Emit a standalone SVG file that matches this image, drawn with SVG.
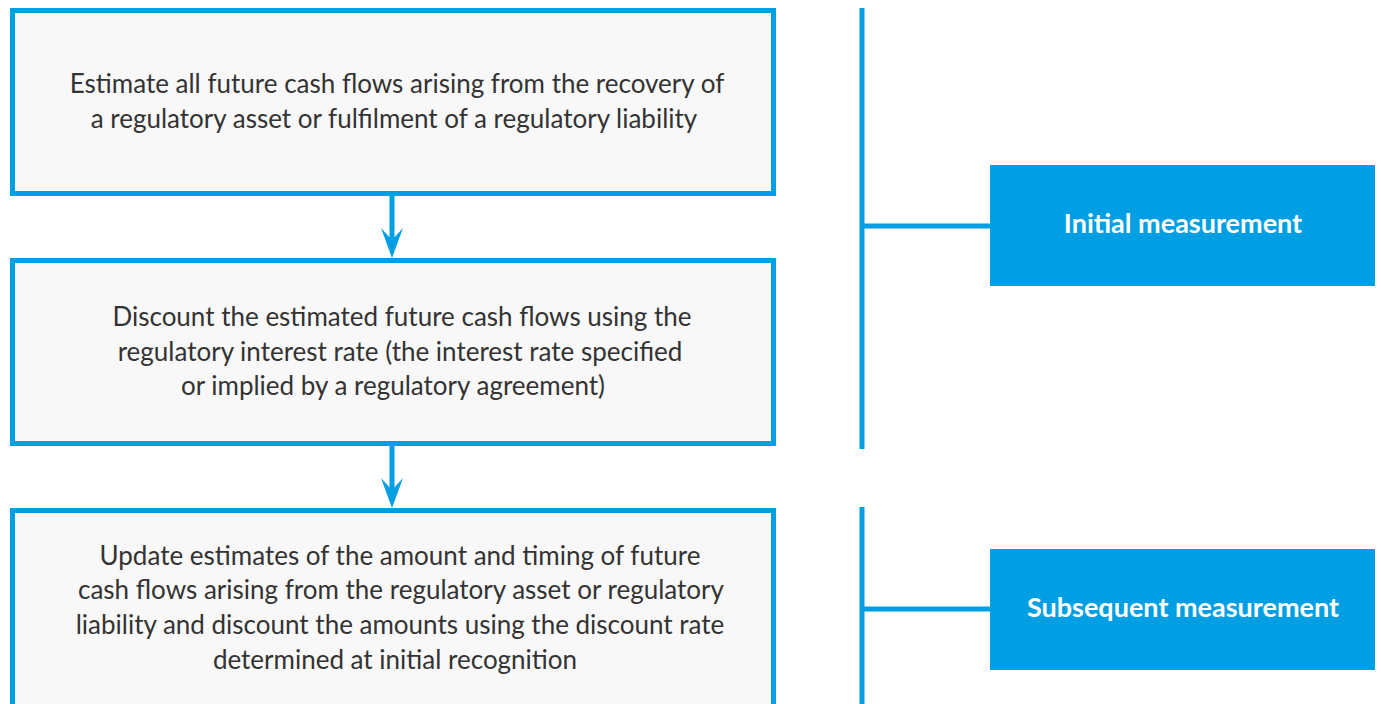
<svg xmlns="http://www.w3.org/2000/svg" width="1381" height="704" viewBox="0 0 1381 704">
<style>
.step{fill:#F8F8F8;stroke:#009FE3;stroke-width:5}
.tag{fill:#009FE3}
.t{font-family:Lato,"Open Sans",sans-serif;font-size:26px;fill:#333333;text-anchor:middle}
.tw{font-family:Lato,"Open Sans",sans-serif;font-size:27px;font-weight:bold;fill:#FFFFFF;text-anchor:middle}
.ln{stroke:#009FE3;stroke-width:5;fill:none}
.ah{fill:#009FE3}
</style>
<rect width="1381" height="704" fill="#FFFFFF"/>
<g id="connectors">
<line class="ln" x1="392" y1="196" x2="392" y2="245"/>
<path class="ah" d="M392,258 L381,228 L392,240 L403,228 Z"/>
<line class="ln" x1="392" y1="446" x2="392" y2="495"/>
<path class="ah" d="M392,508 L381,478 L392,490 L403,478 Z"/>
<line class="ln" x1="862" y1="8" x2="862" y2="449"/>
<line class="ln" x1="862" y1="226" x2="991" y2="226"/>
<line class="ln" x1="862" y1="507" x2="862" y2="704"/>
<line class="ln" x1="862" y1="609" x2="991" y2="609"/>
</g>
<g id="step1">
<rect class="step" x="12.5" y="10.5" width="761" height="183"/>
<text class="t" x="397" y="93">Estimate all future cash flows arising from the recovery of</text>
<text class="t" x="394" y="128">a regulatory asset or fulfilment of a regulatory liability</text>
</g>
<g id="step2">
<rect class="step" x="12.5" y="260.5" width="761" height="183"/>
<text class="t" x="402" y="326">Discount the estimated future cash flows using the</text>
<text class="t" x="400" y="361">regulatory interest rate (the interest rate specified</text>
<text class="t" x="393" y="395">or implied by a regulatory agreement)</text>
</g>
<g id="step3">
<rect class="step" x="12.5" y="510.5" width="761" height="200"/>
<text class="t" x="400" y="565">Update estimates of the amount and timing of future</text>
<text class="t" x="401" y="599">cash flows arising from the regulatory asset or regulatory</text>
<text class="t" x="400" y="634">liability and discount the amounts using the discount rate</text>
<text class="t" x="395" y="669">determined at initial recognition</text>
</g>
<g id="initial">
<rect class="tag" x="990" y="165" width="385" height="121"/>
<text class="tw" x="1183" y="233">Initial measurement</text>
</g>
<g id="subsequent">
<rect class="tag" x="990" y="549" width="385" height="121"/>
<text class="tw" x="1183" y="617">Subsequent measurement</text>
</g>
</svg>
